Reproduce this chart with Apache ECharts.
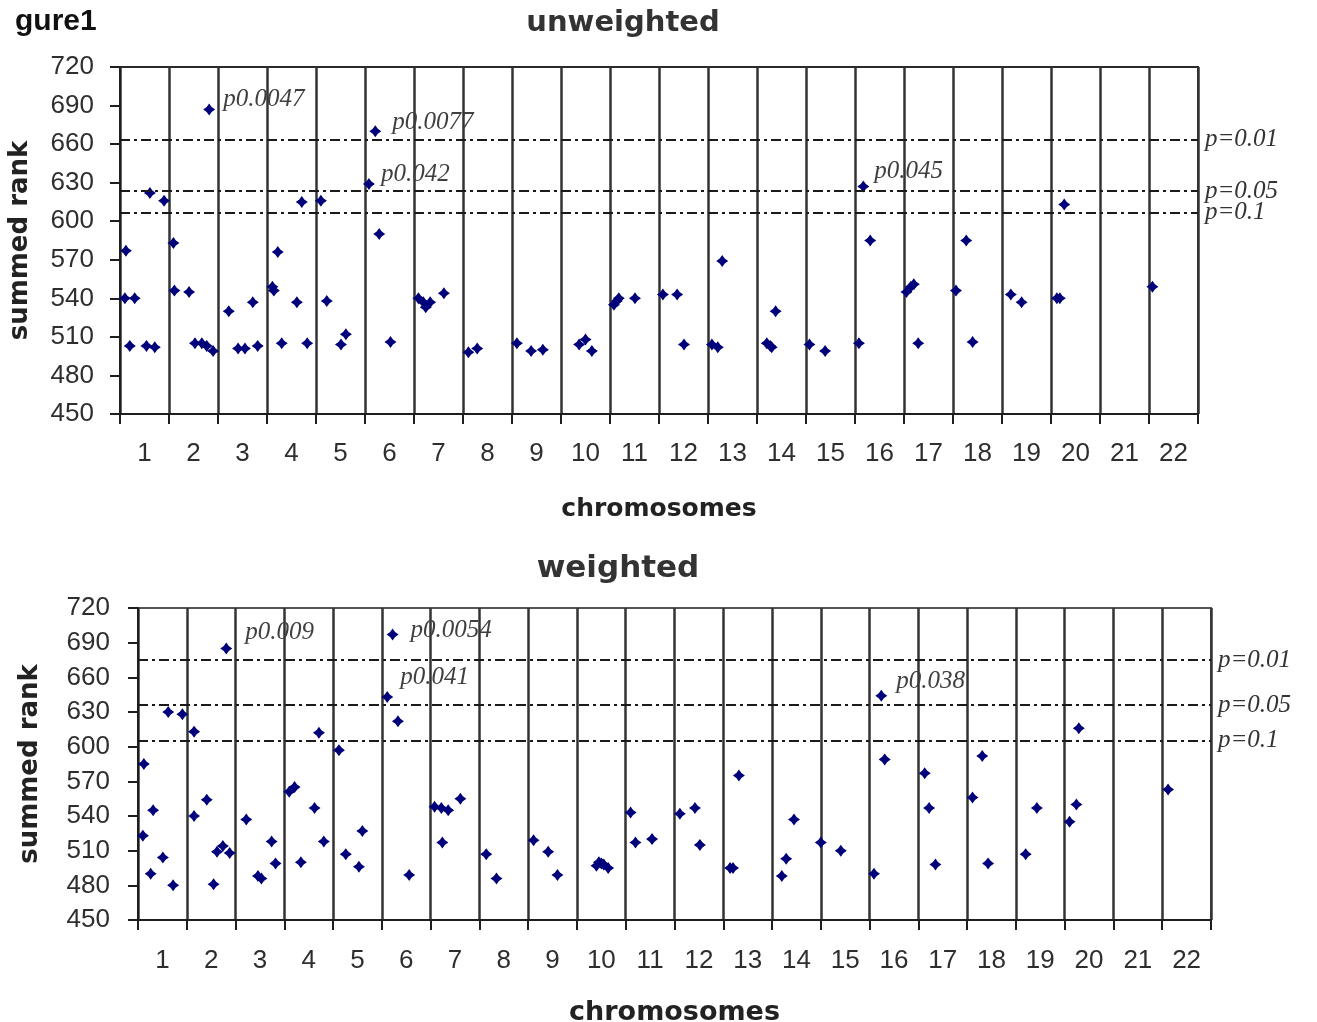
<!DOCTYPE html>
<html>
<head>
<meta charset="utf-8">
<script src="https://cdn.jsdelivr.net/npm/echarts@6/dist/echarts.min.js"></script>
<style>
html,body{margin:0;padding:0;background:#fff;}
#chart{width:1317px;height:1022px;}
</style>
</head>
<body>
<div id="chart"></div>
<script>
// ---------- data ----------
const chromosomes = ['1','2','3','4','5','6','7','8','9','10','11','12','13','14','15','16','17','18','19','20','21','22'];
const yTicks = [450, 480, 510, 540, 570, 600, 630, 660, 690, 720];
const thresholdLabels = ['p=0.01', 'p=0.05', 'p=0.1'];

// unweighted panel: [position along chromosome axis, summed rank]
const unweightedPoints = [
  [0.12,577],[0.10,540],[0.30,540],[0.20,503],[0.54,503],[0.71,502],[0.61,622],[0.90,616],
  [1.09,583],[1.11,546],[1.41,545],[1.53,505],[1.67,505],[1.77,503],[1.90,499],
  [2.22,530],[2.41,501],[2.55,501],[2.71,537],[2.81,503],
  [3.11,549],[3.14,546],[3.22,576],[3.30,505],[3.61,537],[3.82,505],[3.71,615],
  [4.10,616],[4.22,538],[4.51,504],[4.61,512],
  [5.29,590],[5.52,506],
  [6.09,540],[6.19,537],[6.24,533],[6.33,537],[6.61,544],
  [7.11,498],[7.29,501],
  [8.10,505],[8.39,499],[8.63,500],
  [9.37,504],[9.50,508],[9.63,499],
  [10.08,535],[10.14,538],[10.18,540],[10.51,540],
  [11.08,543],[11.37,543],[11.51,504],
  [12.08,504],[12.20,502],[12.29,569],
  [13.20,505],[13.27,503],[13.30,502],[13.38,530],
  [14.07,504],[14.39,499],
  [15.08,505],[15.31,585],
  [16.05,545],[16.14,549],[16.20,551],[16.29,505],
  [17.06,546],[17.27,585],[17.40,506],
  [18.18,543],[18.40,537],
  [19.12,540],[19.18,540],[19.27,613],
  [21.07,549]
];
const unweightedSig = [[1.82,687],[5.21,670],[5.08,629],[15.17,627]];
const unweightedSigText = ['p0.0047','p0.0077','p0.042','p0.045'];
const unweightedThresholds = [663.5, 623.5, 606.5];

// weighted panel
const weightedPoints = [
  [0.12,585],[0.10,523],[0.31,545],[0.26,490],[0.51,504],[0.72,480],[0.62,630],[0.91,628],
  [1.15,613],[1.15,540],[1.41,554],[1.55,481],[1.62,509],[1.74,514],[1.88,508],
  [2.22,537],[2.46,488],[2.53,486],[2.74,518],[2.82,499],
  [3.10,561],[3.21,565],[3.34,500],[3.62,547],[3.81,518],[3.71,612],
  [4.12,597],[4.26,507],[4.53,496],[4.60,527],
  [5.33,622],[5.56,489],
  [6.08,548],[6.22,547],[6.36,545],[6.24,517],[6.61,555],
  [7.14,507],[7.35,486],
  [8.11,519],[8.41,509],[8.60,489],
  [9.40,497],[9.45,500],[9.50,499],[9.55,498],[9.64,495],
  [10.10,543],[10.20,517],[10.54,520],
  [11.11,542],[11.42,547],[11.52,515],
  [12.14,495],[12.20,495],[12.32,575],
  [13.20,488],[13.29,503],[13.45,537],
  [14.00,517],[14.41,510],
  [15.09,490],[15.31,589],
  [16.13,577],[16.22,547],[16.35,498],
  [17.11,556],[17.31,592],[17.43,499],
  [18.20,507],[18.43,547],
  [19.10,535],[19.24,550],[19.29,616],
  [21.12,563]
];
const weightedSig = [[1.81,685],[5.22,697],[5.11,643],[15.24,644]];
const weightedSigText = ['p0.009','p0.0054','p0.041','p0.038'];
const weightedThresholds = [675, 636, 605];

// ---------- styles / layout ----------
const NAVY = '#00007a';
const axisDark = '#1e1e1e';
const MARK = 'path://M5,0 L7.1,2.9 L10,5 L7.1,7.1 L5,10 L2.9,7.1 L0,5 L2.9,2.9 Z';
const serifNote = {fontFamily:'Liberation Serif', fontStyle:'italic', fontSize:25, color:'#3f3f3f'};
const panels = [
  {grid:{left:120, right:119, top:67, height:347}, nameGapX:83, nameGapY:87, labelMarginY:26, labelMarginX:27,
   points:unweightedPoints, sig:unweightedSig, sigText:unweightedSigText, thr:unweightedThresholds,
   sigOffsets:[[3,-10],[6,-9],[1,-10],[0,-15]], thrShift:[10,10,4], borderColor:'#2a2a2a'},
  {grid:{left:138, right:106, top:608, height:312}, nameGapX:79, nameGapY:95, labelMarginY:28, labelMarginX:28,
   points:weightedPoints, sig:weightedSig, sigText:weightedSigText, thr:weightedThresholds,
   sigOffsets:[[8,-16],[7,-4],[2,-20],[4,-14]], thrShift:[10,14,8], borderColor:'#555'}
];

const grids = [], xAxes = [], yAxes = [], series = [];
panels.forEach((p, g) => {
  grids.push(Object.assign({show:true, borderColor:p.borderColor, borderWidth:2, backgroundColor:'transparent',
    containLabel:false, outerBoundsMode:'none'}, p.grid));
  xAxes.push({
    type:'category', gridIndex:g, data:chromosomes, boundaryGap:true,
    axisLine:{show:true, lineStyle:{color:axisDark, width:2}},
    axisTick:{show:true, interval:0, length:10, lineStyle:{color:axisDark, width:2}},
    axisLabel:{interval:0, margin:p.labelMarginX, fontSize:26, fontFamily:'Liberation Sans', color:'#2e2e2e'},
    splitLine:{show:true, interval:0, lineStyle:{color:'#333', width:2.5}},
    name:'chromosomes', nameLocation:'middle', nameGap:p.nameGapX,
    nameTextStyle:{fontFamily:'DejaVu Sans', fontWeight:'bold', fontSize:g===0?25:27, color:'#222'}
  });
  xAxes.push({type:'value', gridIndex:g, min:0, max:22, show:false});
  yAxes.push({
    type:'value', gridIndex:g, min:yTicks[0], max:yTicks[yTicks.length-1], interval:30,
    axisLine:{show:true, lineStyle:{color:axisDark, width:2}},
    axisTick:{show:true, length:10, lineStyle:{color:axisDark, width:2}},
    axisLabel:{margin:p.labelMarginY, fontSize:26, fontFamily:'Liberation Sans', color:'#2e2e2e'},
    splitLine:{show:false},
    name:'summed rank', nameLocation:'middle', nameGap:p.nameGapY,
    nameTextStyle:{fontFamily:'DejaVu Sans', fontWeight:'bold', fontSize:26, color:'#222'}
  });
  series.push({
    type:'scatter', xAxisIndex:2*g+1, yAxisIndex:g, data:p.points,
    symbol:MARK, symbolSize:12, itemStyle:{color:NAVY, opacity:1},
    markLine:{
      silent:true, symbol:['none','none'], animation:false,
      lineStyle:{color:'#1a1a1a', width:1.8, type:[10,4,3,4]},
      data:p.thr.map((v,i)=>({yAxis:v, label:{
        show:true, position:'end', distance:7, formatter:thresholdLabels[i],
        padding:[0,0,p.thrShift[i],0],
        fontFamily:serifNote.fontFamily, fontStyle:'italic', fontSize:25, color:'#333'}}))
    }
  });
  series.push({
    type:'scatter', xAxisIndex:2*g+1, yAxisIndex:g,
    data:p.sig.map((v,i)=>({value:v, label:{offset:p.sigOffsets[i], formatter:p.sigText[i]}})),
    symbol:MARK, symbolSize:12, itemStyle:{color:NAVY, opacity:1},
    label:Object.assign({show:true, position:'right'}, serifNote)
  });
});

const chart = echarts.init(document.getElementById('chart'), null, {renderer:'canvas'});
chart.setOption({
  animation:false,
  backgroundColor:'#fff',
  title:[
    {text:'gure1', left:10, top:2, textStyle:{fontFamily:'Liberation Sans', fontWeight:'bold', fontSize:30, color:'#111'}},
    {text:'unweighted', left:618, textAlign:'center', top:4, textStyle:{fontFamily:'DejaVu Sans', fontWeight:'bold', fontSize:29, color:'#333'}},
    {text:'weighted', left:613, textAlign:'center', top:548, textStyle:{fontFamily:'DejaVu Sans', fontWeight:'bold', fontSize:31, color:'#333'}}
  ],
  grid:grids, xAxis:xAxes, yAxis:yAxes, series:series
});
</script>
</body>
</html>
